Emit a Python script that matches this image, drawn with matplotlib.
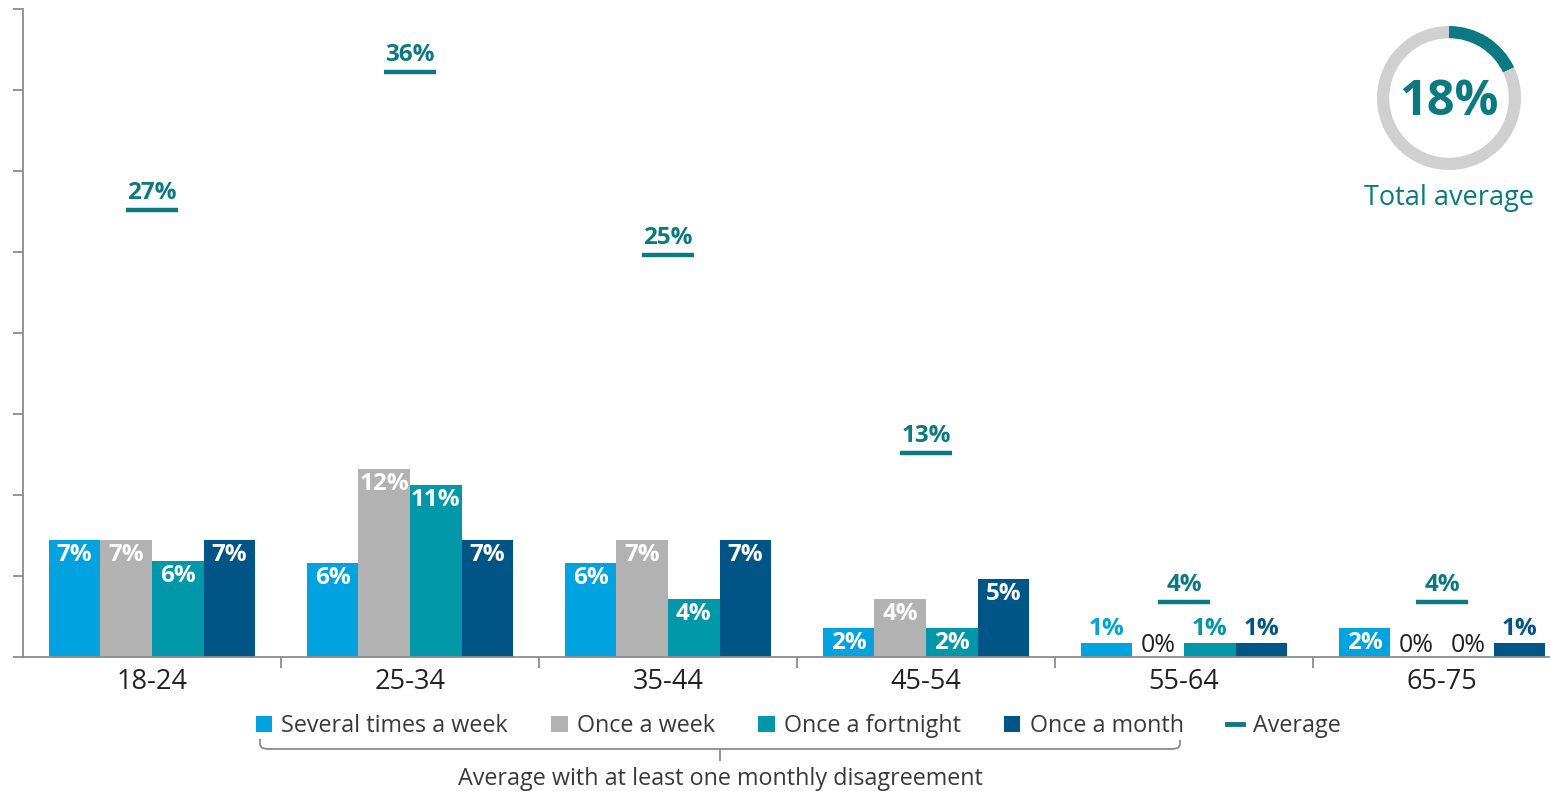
import matplotlib
matplotlib.use("Agg")
import matplotlib.pyplot as plt
import numpy as np
from matplotlib.lines import Line2D
from matplotlib.patches import Patch

plt.rcParams['font.family'] = ['Open Sans', 'DejaVu Sans']

# ---------------- data ----------------
categories = ["18-24", "25-34", "35-44", "45-54", "55-64", "65-75"]
series_names = ["Several times a week", "Once a week", "Once a fortnight", "Once a month"]
several_times_week = [7.2, 5.8, 5.8, 1.8, 0.86, 1.8]
once_week = [7.2, 11.6, 7.2, 3.6, 0.0, 0.0]
once_fortnight = [5.9, 10.6, 3.6, 1.8, 0.86, 0.0]
once_month = [7.2, 7.2, 7.2, 4.8, 0.86, 0.86]
average = [27.6, 36.1, 24.8, 12.6, 3.4, 3.4]
average_labels = ["27%", "36%", "25%", "13%", "4%", "4%"]
total_average = 18
legend_average = "Average"
brace_text = "Average with at least one monthly disagreement"
donut_caption = "Total average"

# ---------------- style ----------------
colors = ["#00A3E0", "#B2B2B2", "#0097A9", "#005587"]
teal = "#0B7A80"
axis_gray = "#8C8C8C"
text_dark = "#222222"
legend_text = "#3A3A3A"

W, H = 1550, 791
fig = plt.figure(figsize=(W / 100, H / 100), dpi=100)

def fx(px):
    return px / W

def fy(py):
    return 1 - py / H

ax_left, ax_right, ax_top, ax_bottom = 23, 1550, 9, 657
ax = fig.add_axes([fx(ax_left), fy(ax_bottom), fx(ax_right - ax_left), (ax_bottom - ax_top) / H])

group_px = 258.0
ax.set_xlim(-0.5, -0.5 + (ax_right - ax_left) / group_px)
ax.set_ylim(0, 40)

series = [several_times_week, once_week, once_fortnight, once_month]
bw = 0.2
x = np.arange(len(categories))
for j, (vals, col) in enumerate(zip(series, colors)):
    xs = x + (j - 1.5) * bw
    ax.bar(xs, vals, width=bw, color=col, linewidth=0, zorder=2)
    for xi, v in zip(xs, vals):
        lab = f"{round(v)}%"
        if v >= 1.5:
            ax.annotate(lab, (xi, v), xytext=(0, -15), textcoords="offset pixels",
                        ha="center", va="center", color="white", fontsize=17.5,
                        fontweight="bold", zorder=3)
        elif v > 0.3:
            ax.annotate(lab, (xi, v), xytext=(0, 2), textcoords="offset pixels",
                        ha="center", va="bottom", color=col, fontsize=17.5,
                        fontweight="bold", zorder=3)
        else:
            ax.annotate(lab, (xi, v), xytext=(0, -1), textcoords="offset pixels",
                        ha="center", va="bottom", color=text_dark, fontsize=18,
                        zorder=3)

# average markers
ax.hlines(average, x - 0.1, x + 0.1, color=teal, linewidth=3.2, zorder=3)
for xi, v, lab in zip(x, average, average_labels):
    ax.annotate(lab, (xi, v), xytext=(0, 5), textcoords="offset pixels",
                ha="center", va="bottom", color=teal, fontsize=17.5,
                fontweight="bold", zorder=3)

# axes styling
for s in ["top", "right"]:
    ax.spines[s].set_visible(False)
for s in ["left", "bottom"]:
    ax.spines[s].set_color(axis_gray)
    ax.spines[s].set_linewidth(1.3)
ax.set_yticks(np.arange(0, 41, 5))
ax.set_yticklabels([])
ax.tick_params(axis="y", length=7.5, width=1.3, color=axis_gray)
ax.set_xticks(x)
ax.set_xticklabels(categories, fontsize=19.5, color=text_dark)
ax.tick_params(axis="x", which="major", length=0, pad=8)
ax.set_xticks(x[:-1] + 0.5, minor=True)
ax.tick_params(axis="x", which="minor", length=8, width=1.3, color=axis_gray)

# legend
handles = [Patch(facecolor=c, edgecolor="none") for c in colors]
handles.append(Line2D([0], [0], color=teal, linewidth=3.5))
leg = fig.legend(handles, series_names + [legend_average], loc="center",
                 bbox_to_anchor=(fx(798), fy(726)), ncol=5, frameon=False,
                 fontsize=16.8, handlelength=0.7, handleheight=0.7,
                 handletextpad=0.4, columnspacing=1.85)
for t in leg.get_texts():
    t.set_color(legend_text)

# brace under the first four legend entries
by = fy(749)
r = 7
brace = Line2D([fx(260), fx(260), fx(260 + 2), fx(260 + r), fx(1180 - r), fx(1180 - 2), fx(1180), fx(1180)],
               [fy(740), fy(745), fy(748), by, by, fy(748), fy(745), fy(741)],
               transform=fig.transFigure, color=axis_gray, linewidth=1.3)
fig.add_artist(brace)
fig.add_artist(Line2D([fx(720), fx(720)], [by, fy(760)], transform=fig.transFigure,
                      color=axis_gray, linewidth=1.3))
fig.text(fx(720), fy(779), brace_text, ha="center", va="center", fontsize=16.8,
         color=legend_text)

# donut
cx, cy, rad = 1449, 98, 72
dax = fig.add_axes([fx(cx - rad), fy(cy + rad), fx(2 * rad), 2 * rad / H])
dax.pie([total_average, 100 - total_average], colors=[teal, "#D0D0D0"], startangle=90,
        counterclock=False, radius=1.0, wedgeprops=dict(width=0.17, linewidth=0))
dax.set_xlim(-1, 1)
dax.set_ylim(-1, 1)
dax.set_aspect("equal")
dax.axis("off")
dax.text(0, -0.06, f"{total_average}%", ha="center", va="center", fontsize=35,
         fontweight="bold", color=teal)
fig.text(fx(cx), fy(198), donut_caption, ha="center", va="center", fontsize=19.5,
         color=teal)

fig.savefig("out.png", dpi=100)
